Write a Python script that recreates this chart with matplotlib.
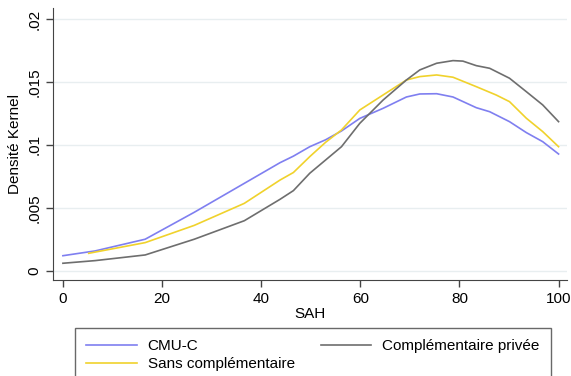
import matplotlib
matplotlib.use("Agg")
import matplotlib.pyplot as plt

plt.rcParams["font.family"] = ["Liberation Sans", "DejaVu Sans"]

# Densités kernel
cmu_x = [0, 6.5, 16.6, 26.5, 36.6, 43.8, 46.5, 49.8, 53, 56.2, 59.9, 64.6,
         69.3, 72, 75.4, 78.7, 83.4, 86.1, 90.1, 93.5, 96.8, 100]
cmu_y = [0.00119, 0.00157, 0.0025, 0.00464, 0.00694, 0.00858, 0.0091, 0.00985,
         0.0104, 0.0111, 0.0121, 0.0129, 0.0138, 0.01404, 0.01406, 0.0138,
         0.01295, 0.01263, 0.01184, 0.01097, 0.01025, 0.00927]

sans_x = [5.2, 16.6, 26.5, 36.6, 43.8, 46.5, 49.8, 53, 56.2, 59.9, 64.6, 69.3,
          72, 75.4, 78.7, 83.4, 87.4, 90.1, 93.5, 96.8, 100]
sans_y = [0.00138, 0.00223, 0.0036, 0.00535, 0.0072, 0.0078, 0.00906, 0.0102,
          0.01118, 0.01277, 0.01396, 0.01515, 0.01542, 0.01555, 0.01537,
          0.01462, 0.01396, 0.01343, 0.01211, 0.01105, 0.00985]

priv_x = [0, 6.5, 16.6, 26.5, 36.6, 43.8, 46.5, 49.8, 56.2, 59.9, 64.6, 69.3,
          72, 75.4, 78.7, 80.7, 83.4, 86.1, 90.1, 93.5, 96.8, 100]
priv_y = [0.00059, 0.0008, 0.00125, 0.0025, 0.00397, 0.00567, 0.00636, 0.00774,
          0.00985, 0.01171, 0.01356, 0.01515, 0.01595, 0.01648, 0.01669,
          0.01665, 0.01629, 0.01608, 0.01529, 0.01422, 0.01317, 0.01184]

x_ticks = [0, 20, 40, 60, 80, 100]
y_ticks = [0, 0.005, 0.01, 0.015, 0.02]
y_tick_labels = ["0", ".005", ".01", ".015", ".02"]

fig = plt.figure(figsize=(5.71, 3.76), dpi=100)
ax = fig.add_axes([53 / 571, 1 - 280 / 376, 514 / 571, 272 / 376])

for val in y_ticks:
    ax.axhline(val, color="#e8eef0", linewidth=1.0, zorder=0)

ax.plot(cmu_x, cmu_y, color="#7f7ff0", linewidth=1.2, label="CMU-C")
ax.plot(sans_x, sans_y, color="#f0d22c", linewidth=1.2,
        label="Sans complémentaire")
ax.plot(priv_x, priv_y, color="#6e6e6e", linewidth=1.2,
        label="Complémentaire privée")

ax.set_xlim(-2, 101.7)
ax.set_ylim(-0.00074, 0.02087)
ax.set_xticks(x_ticks)
ax.set_yticks(y_ticks)
ax.set_yticklabels(y_tick_labels, rotation=90, va="center")
ax.tick_params(direction="out", length=5, width=1, color="#444444",
               labelsize=11)

for side in ["top", "right"]:
    ax.spines[side].set_visible(False)
for side in ["left", "bottom"]:
    ax.spines[side].set_color("#444444")

ax.set_xlabel("SAH", fontsize=11, labelpad=1)
ax.set_ylabel("Densité Kernel", fontsize=11, labelpad=4)

handles, labels = ax.get_legend_handles_labels()
leg = fig.legend(handles, labels,
                 loc="upper left", ncol=2,
                 bbox_to_anchor=(75 / 571, 1 - 328 / 376),
                 borderaxespad=0,
                 fontsize=11, frameon=True, fancybox=False,
                 handlelength=3.3, handletextpad=0.7, borderpad=0.75,
                 labelspacing=0.25, columnspacing=1.7)
leg.get_frame().set_edgecolor("#444444")
leg.get_frame().set_linewidth(1.0)

fig.savefig("out.png", dpi=100)
